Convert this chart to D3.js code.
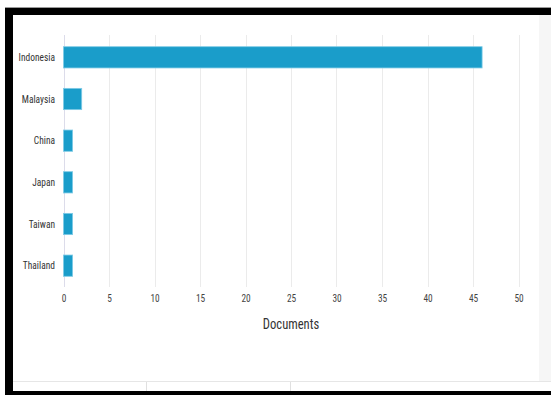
<!DOCTYPE html>
<html><head><meta charset="utf-8">
<script src="https://cdn.jsdelivr.net/npm/d3@7"></script>
<style>
html,body{margin:0;padding:0;background:#fff;}
svg{display:block;}
text{font-family:"Liberation Sans Narrow","Roboto Condensed","Liberation Sans",sans-serif;}
</style></head>
<body>
<svg id="c" width="551" height="395"></svg>
<script>
const countries = ["Indonesia","Malaysia","China","Japan","Taiwan","Thailand"];
const documents = [46, 2, 1, 1, 1, 1];
const xTicks = [0,5,10,15,20,25,30,35,40,45,50];
const xTitle = "Documents";

const svg = d3.select("#c");

// frame / screenshot decoration
svg.append("rect").attr("x",539).attr("y",15).attr("width",12).attr("height",367).attr("fill","#f6f6f6");
svg.append("line").attr("x1",13).attr("x2",551).attr("y1",381.5).attr("y2",381.5).attr("stroke","#e6e6e6");
[146,290].forEach(x=>svg.append("line").attr("x1",x+0.5).attr("x2",x+0.5).attr("y1",382).attr("y2",391).attr("stroke","#e0e0e0"));
svg.append("line").attr("x1",5).attr("x2",551).attr("y1",7.5).attr("y2",7.5).attr("stroke","#9a9a9a");
svg.append("rect").attr("x",5).attr("y",8).attr("width",546).attr("height",7).attr("fill","#000");
svg.append("rect").attr("x",5).attr("y",8).attr("width",8).attr("height",387).attr("fill","#000");
svg.append("rect").attr("x",5).attr("y",391).attr("width",546).attr("height",4).attr("fill","#000");

const x = d3.scaleLinear().domain([0,50]).range([63.5,518.5]);
const y = d3.scaleBand().domain(countries).range([36.5,286.5]).paddingInner(0.49).paddingOuter(0.245);

const g = svg.append("g");
// grid
g.selectAll("line.grid").data(xTicks).join("line")
  .attr("x1",d=>Math.round(x(d))+0.5).attr("x2",d=>Math.round(x(d))+0.5)
  .attr("y1",35).attr("y2",287)
  .attr("stroke",(d)=>d===0?"#dcdcea":"#ebebeb").attr("stroke-width",1);

// x axis
const xa = g.append("g").attr("transform","translate(0,287)")
  .call(d3.axisBottom(x).tickValues(xTicks).tickSize(0).tickPadding(7));
xa.select(".domain").remove();
xa.selectAll("text").attr("fill","#444").attr("font-size",11).attr("transform","scale(0.85,1)");
xa.selectAll(".tick line").remove();

// y axis
const ya = g.append("g").attr("transform","translate(55,0)")
  .call(d3.axisLeft(y).tickSize(0).tickPadding(0));
ya.select(".domain").remove();
ya.selectAll("text").attr("fill","#333").attr("font-size",11).attr("transform","scale(0.86,1)");

// bars
g.selectAll("rect.bar").data(countries).join("rect")
  .attr("x",x(0)).attr("y",d=>y(d))
  .attr("width",(d,i)=>x(documents[i])-x(0))
  .attr("height",y.bandwidth())
  .attr("fill","#1a9dca").attr("stroke","#7fcbe6").attr("stroke-width",0.8);

svg.append("g").attr("transform","translate(291,329) scale(0.9,1)")
  .append("text").attr("text-anchor","middle")
  .attr("font-size",14).attr("fill","#333").text(xTitle);
</script>
</body></html>
